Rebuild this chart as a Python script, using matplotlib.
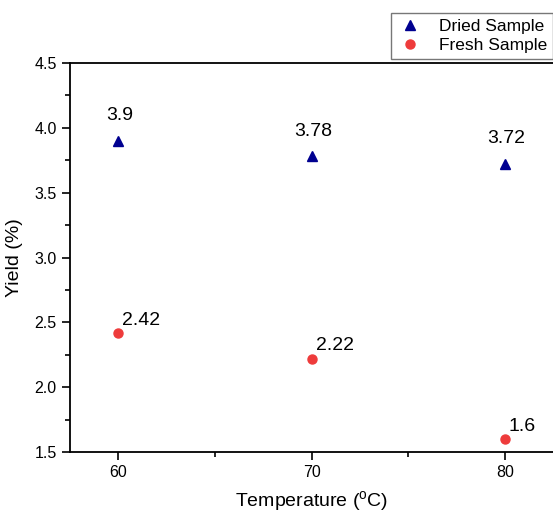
import matplotlib.pyplot as plt
from matplotlib.ticker import MultipleLocator

plt.rcParams["font.family"] = ["Liberation Sans", "DejaVu Sans"]

temperature = [60, 70, 80]
dried_yield = [3.9, 3.78, 3.72]
fresh_yield = [2.42, 2.22, 1.6]
dried_labels = ["3.9", "3.78", "3.72"]
fresh_labels = ["2.42", "2.22", "1.6"]

fig = plt.figure(figsize=(5.53, 5.13), dpi=100)
ax = fig.add_axes([0.1266, 0.1189, 0.8752, 0.7583])

ax.plot(temperature, dried_yield, linestyle="none", marker="^", markersize=7,
        color="#000090", label="Dried Sample")
ax.plot(temperature, fresh_yield, linestyle="none", marker="o", markersize=6.5,
        color="#ee3b3b", label="Fresh Sample")

for x, y, s in zip(temperature, dried_yield, dried_labels):
    ax.annotate(s, (x, y), xytext=(1, 12), textcoords="offset points",
                ha="center", va="bottom", fontsize=14)
for x, y, s in zip(temperature, fresh_yield, fresh_labels):
    ax.annotate(s, (x, y), xytext=(3, 3), textcoords="offset points",
                ha="left", va="bottom", fontsize=14)

ax.set_xlim(57.5, 82.55)
ax.set_ylim(1.5, 4.5)
ax.xaxis.set_major_locator(MultipleLocator(10))
ax.xaxis.set_minor_locator(MultipleLocator(5))
ax.yaxis.set_major_locator(MultipleLocator(0.5))
ax.yaxis.set_minor_locator(MultipleLocator(0.25))
ax.tick_params(which="major", direction="out", length=6, width=1.2, labelsize=11.5)
ax.tick_params(which="minor", direction="out", length=3.5, width=1.2)
for side in ["left", "bottom", "top"]:
    ax.spines[side].set_linewidth(1.3)
ax.spines["right"].set_visible(False)

ax.set_xlabel("Temperature ($\\mathregular{^{o}}$C)", fontsize=14, labelpad=6)
ax.set_ylabel("Yield (%)", fontsize=14, labelpad=8)

ax.legend(loc="upper left", bbox_to_anchor=(391 / 553, 1 - 13 / 513),
          bbox_transform=fig.transFigure, borderaxespad=0, fontsize=12.5,
          frameon=True, fancybox=False, edgecolor="#555555",
          handletextpad=0.9, borderpad=0.35, labelspacing=0.2, handlelength=1.5)

fig.savefig("out.png", dpi=100)
